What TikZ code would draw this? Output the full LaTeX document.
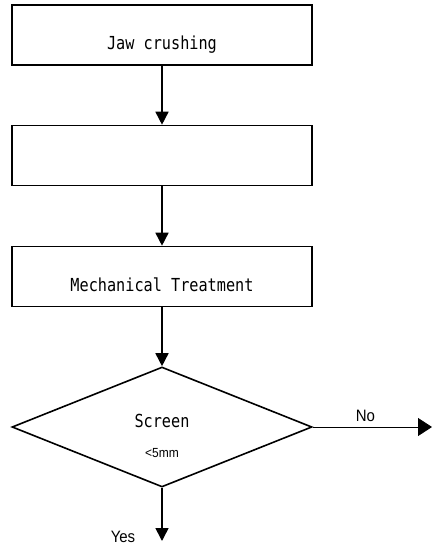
\documentclass[tikz,border=0pt]{standalone}
\usepackage{fontspec}
\usetikzlibrary{shapes.geometric,arrows.meta}
\newfontfamily\boxfont{DejaVu Sans Mono}
\newfontfamily\lblfont{Liberation Sans}
\begin{document}
\begin{tikzpicture}[x=1pt,y=-1pt,
  procbox/.style={draw,line width=1.6pt,minimum width=300pt,minimum height=60pt,inner sep=0pt},
  decbox/.style={draw,diamond,line width=1.6pt,minimum width=300pt,minimum height=120pt,inner sep=0pt},
  boxtxt/.style={anchor=base,inner sep=0pt,font=\boxfont\fontsize{15.2pt}{18pt}\selectfont},
  lbltxt/.style={anchor=base,inner sep=0pt,font=\lblfont\fontsize{15pt}{18pt}\selectfont},
  flow/.style={line width=1.6pt,-{Triangle[width=13pt,length=13pt]}},
  thinflow/.style={line width=0.8pt,-{Triangle[width=18pt,length=14pt]}}]
\useasboundingbox (0,0) rectangle (432,550);
\node[procbox] (b1) at (162,35) {};
\node[procbox] (b2) at (162,155.5) {};
\node[procbox] (b3) at (162,276.5) {};
\node[decbox] (d) at (162,427) {};
\node[boxtxt] (t1) at (162,49.5) {\scalebox{1}[1.18]{Jaw crushing}};
\node[boxtxt] (t3) at (162,291) {\scalebox{1}[1.18]{Mechanical Treatment}};
\node[boxtxt] (t4) at (162,427.5) {\scalebox{1}[1.18]{Screen}};
\node[lbltxt,font=\lblfont\fontsize{12pt}{14pt}\selectfont] (t5) at (162,457) {\scalebox{1}[1.1]{<5mm}};
\node[lbltxt] (no) at (365.5,421) {\scalebox{1}[1.1]{No}};
\node[lbltxt] (yes) at (123,542) {\scalebox{1}[1.1]{Yes}};
\coordinate (noend) at (432,427);
\coordinate (yesend) at (162,541);
\draw[flow] (b1.south) -- (b2.north);
\draw[flow] (b2.south) -- (b3.north);
\draw[flow] (b3.south) -- (d.north);
\draw[thinflow] (d.east) -- (noend);
\draw[flow] (d.south) -- (yesend);
\end{tikzpicture}
\end{document}
